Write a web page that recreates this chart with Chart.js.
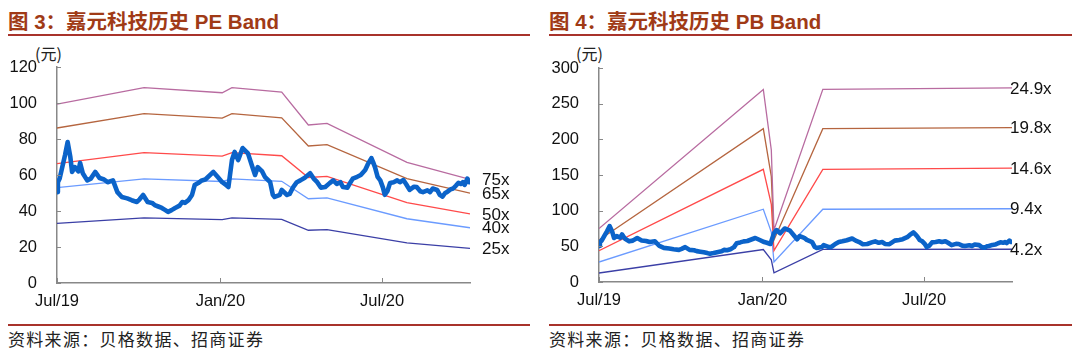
<!DOCTYPE html>
<html><head><meta charset="utf-8">
<script src="https://cdn.jsdelivr.net/npm/chart.js@4/dist/chart.umd.min.js"></script>
<style>
html,body{margin:0;padding:0;background:#fff;}
body{width:1080px;height:356px;position:relative;overflow:hidden;font-family:"Liberation Sans",Arial,sans-serif;}
.title{position:absolute;top:9px;font:bold 20.5px/22px "Liberation Sans","Noto Sans CJK SC",sans-serif;color:#A03A16;white-space:nowrap;}
.title .cjk{font-family:"Noto Sans CJK SC",sans-serif;}
.rule{position:absolute;height:2px;background:#A8332B;}
.foot{position:absolute;top:329px;font:17px/19px "Noto Sans CJK SC",sans-serif;color:#222;letter-spacing:1.3px;white-space:nowrap;}
.unit{position:absolute;top:44px;font:16px/18px "Noto Sans CJK SC",sans-serif;color:#222;}
canvas{position:absolute;top:0;}
</style></head>
<body>
<div class="title" style="left:8px"><span class="cjk">图</span> 3<span class="cjk">：嘉元科技历史</span> PE Band</div>
<div class="rule" style="left:8px;width:522px;top:34px"></div>
<div class="title" style="left:549px"><span class="cjk">图</span> 4<span class="cjk">：嘉元科技历史</span> PB Band</div>
<div class="rule" style="left:549px;width:523px;top:34px"></div>
<div class="unit" style="left:35px">(元)</div>
<div class="unit" style="left:576px">(元)</div>
<div class="rule" style="left:8px;width:522px;top:324px"></div>
<div class="rule" style="left:549px;width:523px;top:324px"></div>
<div class="foot" style="left:8px">资料来源：贝格数据、招商证券</div>
<div class="foot" style="left:549px">资料来源：贝格数据、招商证券</div>
<canvas id="pe" width="540" height="356" style="left:0"></canvas>
<canvas id="pb" width="540" height="356" style="left:540px"></canvas>
<script>
// ---- data (x = days since 1 Jul 2019) ----
const xTickDays = [0, 184, 366];
const xTickLabels = ['Jul/19', 'Jan/20', 'Jul/20'];

const priceDays = [0,1,3,7,9,12,15,17,20,24,26,29,34,38,43,48,53,57,63,68,73,79,84,90,93,97,102,107,110,114,118,122,125,129,133,138,141,144,148,152,155,159,163,167,170,176,181,186,189,193,197,200,204,209,213,215,220,223,226,231,234,238,240,243,245,251,253,259,262,266,270,274,279,285,289,293,297,302,307,311,315,319,322,327,330,333,338,342,347,350,354,356,358,361,364,367,369,372,375,379,383,386,390,393,397,402,405,409,412,417,420,423,428,431,434,437,439,443,446,449,452,455,457,459,462,464,465];
const priceValues = [50.5,56,58,66.7,71,78.3,70,61.7,64.4,62,66.7,61,57,58,61.7,58.3,57.5,56,57,50.5,47.8,47,46,45,46.5,48.9,45,44.5,43.3,42.5,41.7,40.5,39.5,40.5,41.7,43,45,44.5,46,48.9,54.4,55.5,57,57.5,58.9,61.7,58.9,56,55,53.3,68.3,72.8,68.3,75,73,72,64.4,60,64.4,62,59,57,56,49,47.8,49,51.7,48.9,49.5,53.3,56,57,58.5,61,58,56,53,53.3,55.5,57,55,56,53.3,53,55.6,58,59,60,62.8,66,69.4,67,64.4,59,57,53,49,51,55.6,56,57,56,57.2,55,51.7,53.5,53.3,51,50.5,51.5,50.5,52.5,51.7,49,48,50,50.5,52,52.5,54,55.6,55,56,54.5,58,56,56];

// PE band lines
const peBandDays = [0, 98, 186, 197, 253, 283, 304, 394, 465];
const peBand75 = [99.4, 108.5, 105.7, 108.5, 106.0, 87.8, 88.7, 67.0, 57.6];
const peBand65 = [86.1, 94.1, 91.6, 94.1, 91.8, 76.1, 76.9, 58.0, 49.9];
const peBand50 = [66.3, 72.4, 70.5, 72.4, 70.7, 58.6, 59.2, 44.7, 38.4];
const peBand40 = [53.0, 57.9, 56.4, 57.9, 56.5, 46.8, 47.3, 35.7, 30.7];
const peBand25 = [33.1, 36.2, 35.2, 36.2, 35.3, 29.3, 29.6, 22.3, 19.2];
const peLabels = ['75x', '65x', '50x', '40x', '25x'];

// PB band lines
const pbBandDays = [0, 185, 194, 197, 252, 465];
const pbBand249 = [75, 270, 185, 73, 270, 272];
const pbBand198 = [59, 215, 148, 59, 215, 216.5];
const pbBand146 = [44, 158, 109, 44, 158, 159.6];
const pbBand94 = [28, 102, 70, 28, 102, 102.7];
const pbBand42 = [12.6, 45.5, 31, 13, 45.6, 45.9];
const pbLabels = ['24.9x', '19.8x', '14.6x', '9.4x', '4.2x'];

const bandColors = ['#B86BA0', '#B5653F', '#FF4A4A', '#6B9BFF', '#3B3FA6'];
const priceColor = '#0B63C9';

function pts(xs, ys){ return xs.map((d,i)=>({x:d, y:ys[i]})); }

const inwardTicks = {
  id: 'inwardTicks',
  afterDraw(chart){
    const ctx = chart.ctx, xs = chart.scales.x, ys = chart.scales.y;
    ctx.save(); ctx.strokeStyle = '#888'; ctx.lineWidth = 1;
    xs.ticks.forEach(t=>{ const px = Math.round(xs.getPixelForValue(t.value))+0.5;
      ctx.beginPath(); ctx.moveTo(px, xs.top); ctx.lineTo(px, xs.top-5); ctx.stroke(); });
    ys.ticks.forEach(t=>{ const py = Math.round(ys.getPixelForValue(t.value))+0.5;
      ctx.beginPath(); ctx.moveTo(ys.right, py); ctx.lineTo(ys.right+4, py); ctx.stroke(); });
    ctx.restore();
  }
};
const endLabels = {
  id: 'endLabels',
  afterDraw(chart, args, opts){
    const ctx = chart.ctx, xs = chart.scales.x, ys = chart.scales.y;
    ctx.save(); ctx.fillStyle = '#111'; ctx.font = '17px "Liberation Sans", Arial, sans-serif';
    ctx.textBaseline = 'middle'; ctx.textAlign = 'left';
    chart.data.datasets.forEach(ds=>{
      if(!ds.endLabel) return;
      const last = ds.data[ds.data.length-1];
      ctx.fillText(ds.endLabel, xs.right + opts.dx, ys.getPixelForValue(last.y) + 1);
    });
    ctx.restore();
  }
};

function makeChart(id, bandDays, bands, labels, ymax, step, pad, dx){
  const datasets = [{data: pts(priceDays, priceValues), borderColor: priceColor, borderWidth: 4.6, pointRadius: 0, tension: 0, borderJoinStyle:'round', borderCapStyle:'round'}];
  bands.forEach((b,i)=>datasets.push({data: pts(bandDays, b), borderColor: bandColors[i], borderWidth: 1.3, pointRadius: 0, tension: 0, endLabel: labels[i]}));
  return new Chart(document.getElementById(id), {
    type: 'line',
    data: {datasets},
    plugins: [inwardTicks, endLabels],
    options: {
      responsive: false, animation: false, events: [],
      layout: {padding: pad},
      plugins: {legend: {display: false}, tooltip: {enabled: false}, endLabels: {dx}},
      scales: {
        x: {type: 'linear', min: 0, max: 465,
            afterBuildTicks: s=>{ s.ticks = xTickDays.map(v=>({value:v})); },
            afterFit: s=>{ s.height = 40; },
            grid: {display: false, drawTicks: false},
            border: {display: true, color: '#888', width: 1.5},
            ticks: {padding: 9, maxRotation: 0, autoSkip: false, color: '#111',
                    font: {family: '"Liberation Sans", Arial, sans-serif', size: 16.5},
                    callback: v=>xTickLabels[xTickDays.indexOf(v)]}},
        y: {min: 0, max: ymax,
            afterFit: s=>{ s.width = pad.yw; },
            grid: {display: false, drawTicks: false},
            border: {display: true, color: '#888', width: 1.5},
            ticks: {stepSize: step, padding: 20, color: '#111',
                    font: {family: '"Liberation Sans", Arial, sans-serif', size: 16.5}}}
      }
    }
  });
}

makeChart('pe', peBandDays, [peBand75, peBand65, peBand50, peBand40, peBand25], peLabels, 120, 20,
  {left: 0, top: 67, right: 70, bottom: 33, yw: 57}, 12);
makeChart('pb', pbBandDays, [pbBand249, pbBand198, pbBand146, pbBand94, pbBand42], pbLabels, 300, 50,
  {left: 0, top: 68, right: 68, bottom: 34, yw: 59}, -2);
</script>
</body></html>
